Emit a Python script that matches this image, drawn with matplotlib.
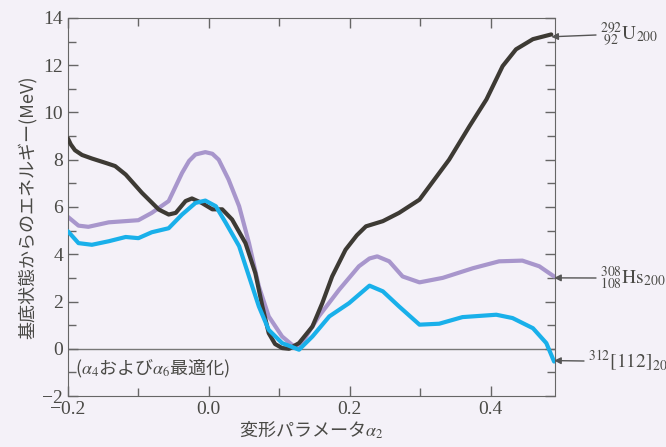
import numpy as np
import matplotlib.pyplot as plt
from matplotlib.ticker import MultipleLocator

plt.rcParams['font.family'] = ['Liberation Serif', 'Noto Sans CJK JP']
plt.rcParams['mathtext.fontset'] = 'stix'

# 292U (black)
u_x = [-0.2, -0.196, -0.19, -0.18, -0.166, -0.145, -0.133, -0.118, -0.095, -0.071,
       -0.057, -0.047, -0.033, -0.024, -0.01, 0.005, 0.019, 0.033, 0.052, 0.066,
       0.076, 0.085, 0.094, 0.104, 0.114, 0.128, 0.147, 0.161, 0.175, 0.194,
       0.21, 0.223, 0.247, 0.27, 0.299, 0.341, 0.37, 0.394, 0.417, 0.436,
       0.46, 0.486]
u_y = [8.9, 8.65, 8.4, 8.2, 8.05, 7.85, 7.73, 7.37, 6.6, 5.89,
       5.68, 5.75, 6.25, 6.36, 6.17, 5.9, 5.9, 5.47, 4.47, 3.2,
       1.79, 0.66, 0.2, 0.03, 0.0, 0.24, 0.94, 1.93, 3.06, 4.19,
       4.8, 5.18, 5.4, 5.75, 6.31, 8.0, 9.42, 10.55, 11.96, 12.67,
       13.1, 13.3]

# 308Hs (purple)
hs_x = [-0.2, -0.185, -0.171, -0.142, -0.1, -0.081, -0.057, -0.038, -0.028, -0.019,
        -0.005, 0.005, 0.014, 0.028, 0.043, 0.057, 0.071, 0.085, 0.104, 0.118,
        0.128, 0.156, 0.185, 0.213, 0.228, 0.239, 0.256, 0.275, 0.299, 0.332,
        0.375, 0.412, 0.445, 0.469, 0.49]
hs_y = [5.58, 5.21, 5.16, 5.35, 5.44, 5.75, 6.25, 7.44, 7.95, 8.22,
        8.32, 8.25, 8.0, 7.16, 6.03, 4.47, 2.64, 1.37, 0.52, 0.17,
        0.05, 1.37, 2.5, 3.49, 3.82, 3.91, 3.7, 3.06, 2.81, 3.0,
        3.41, 3.7, 3.73, 3.49, 3.06]

# 312[112] (blue)
e_x = [-0.2, -0.185, -0.166, -0.142, -0.118, -0.1, -0.081, -0.057, -0.038, -0.019,
       -0.005, 0.01, 0.024, 0.043, 0.057, 0.071, 0.085, 0.104, 0.128, 0.147,
       0.171, 0.199, 0.228, 0.247, 0.27, 0.299, 0.327, 0.36, 0.408, 0.431,
       0.46, 0.479, 0.49]
e_y = [4.97, 4.47, 4.4, 4.55, 4.73, 4.68, 4.93, 5.1, 5.68, 6.17,
       6.27, 6.03, 5.33, 4.34, 3.06, 1.79, 0.8, 0.24, -0.04, 0.52,
       1.37, 1.93, 2.67, 2.43, 1.79, 1.02, 1.06, 1.34, 1.44, 1.3,
       0.87, 0.24, -0.54]

labels = [r'$^{292}_{\ 92}\mathrm{U}_{200}$', r'$^{308}_{108}\mathrm{Hs}_{200}$', r'$^{312}[112]_{200}$']

bg = '#f4f1f8'
txt = '#4a4a46'

fig = plt.figure(figsize=(6.66, 4.47), dpi=100, facecolor=bg)
ax = fig.add_axes([0.102, 0.114, 0.731, 0.846], facecolor=bg)

ax.axhline(0, color='#777777', lw=1.0, zorder=1)
ax.plot(u_x, u_y, color='#3d3a34', lw=3.0, solid_capstyle='round', solid_joinstyle='round', zorder=3)
ax.plot(hs_x, hs_y, color='#a896cc', lw=3.0, solid_capstyle='round', solid_joinstyle='round', zorder=2)
ax.plot(e_x, e_y, color='#19b0ea', lw=3.0, solid_capstyle='round', solid_joinstyle='round', zorder=4)

ax.set_xlim(-0.2, 0.491)
ax.set_ylim(-2, 14)
ax.xaxis.set_major_locator(MultipleLocator(0.2))
ax.xaxis.set_minor_locator(MultipleLocator(0.1))
ax.yaxis.set_major_locator(MultipleLocator(2))
ax.yaxis.set_minor_locator(MultipleLocator(1))
ax.tick_params(which='both', direction='in', top=True, right=True, colors='#666666',
               labelcolor=txt, labelsize=14, width=1)
ax.tick_params(which='major', length=7)
ax.tick_params(which='minor', length=6)
for s in ax.spines.values():
    s.set_color('#666666')

ax.set_xlabel(r'変形パラメータ$\alpha_2$', fontsize=13, color=txt, family='Noto Sans CJK JP',
              labelpad=1)
ax.set_ylabel('基底状態からのエネルギー(MeV)', fontsize=13, color=txt, family='Noto Sans CJK JP')

ax.text(-0.19, -0.85, r'($\alpha_4$および$\alpha_6$最適化)', fontsize=13, color=txt,
        family='Noto Sans CJK JP', va='center', ha='left')

ends = [(u_x[-1], 13.2, 412), (hs_x[-1], 3.0, 169), (e_x[-1], -0.5, 86)]
for (xe, ye, py), lab, px in zip(ends, labels, [600, 600, 588]):
    ax.annotate('', xy=(xe, ye), xycoords='data', xytext=(px - 4, py),
                textcoords='figure pixels',
                arrowprops=dict(arrowstyle='-|>', color='#555555', lw=1.0,
                                shrinkA=0, shrinkB=0, mutation_scale=10))
    fig.text(px / 666, py / 447, lab, fontsize=14, color=txt, va='center', ha='left')

fig.savefig('out.png', dpi=100, facecolor=bg)
